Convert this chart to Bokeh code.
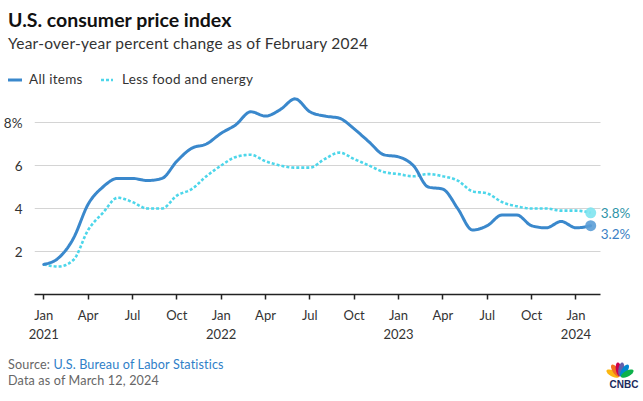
import numpy as np
from bokeh.plotting import figure
from bokeh.layouts import column
from bokeh.models import Label, FixedTicker, Range1d, Div
from bokeh.embed import file_html
from bokeh.resources import INLINE

# ---------------- data ----------------
months = ["2021-01", "2021-02", "2021-03", "2021-04", "2021-05", "2021-06",
          "2021-07", "2021-08", "2021-09", "2021-10", "2021-11", "2021-12",
          "2022-01", "2022-02", "2022-03", "2022-04", "2022-05", "2022-06",
          "2022-07", "2022-08", "2022-09", "2022-10", "2022-11", "2022-12",
          "2023-01", "2023-02", "2023-03", "2023-04", "2023-05", "2023-06",
          "2023-07", "2023-08", "2023-09", "2023-10", "2023-11", "2023-12",
          "2024-01", "2024-02"]
all_items = [1.4, 1.7, 2.6, 4.2, 5.0, 5.4, 5.4, 5.3, 5.4, 6.2, 6.8, 7.0,
             7.5, 7.9, 8.5, 8.3, 8.6, 9.1, 8.5, 8.3, 8.2, 7.7, 7.1, 6.5,
             6.4, 6.0, 5.0, 4.9, 4.0, 3.0, 3.2, 3.7, 3.7, 3.2, 3.1, 3.4,
             3.1, 3.2]
core = [1.4, 1.3, 1.6, 3.0, 3.8, 4.5, 4.3, 4.0, 4.0, 4.6, 4.9, 5.5,
        6.0, 6.4, 6.5, 6.2, 6.0, 5.9, 5.9, 6.3, 6.6, 6.3, 6.0, 5.7,
        5.6, 5.5, 5.6, 5.5, 5.3, 4.8, 4.7, 4.3, 4.1, 4.0, 4.0, 3.9,
        3.9, 3.8]
series_names = ["All items", "Less food and energy"]
x_tick_labels = ["Jan\n2021", "Apr", "Jul", "Oct", "Jan\n2022", "Apr", "Jul",
                 "Oct", "Jan\n2023", "Apr", "Jul", "Oct", "Jan\n2024"]
y_ticks = [2, 4, 6, 8]
y_tick_labels = ["2", "4", "6", "8%"]

FONT = "Lato"
BLUE = "#3a88cc"
CYAN = "#4dd6ea"
TXT = "#333333"


def monotone_curve(xs, ys, n=10):
    """Render-time monotone cubic (like d3.curveMonotoneX)."""
    xs = np.asarray(xs, float)
    ys = np.asarray(ys, float)
    h = np.diff(xs)
    s = np.diff(ys) / h
    t = np.zeros_like(ys)
    for i in range(1, len(ys) - 1):
        p_ = (s[i - 1] * h[i] + s[i] * h[i - 1]) / (h[i - 1] + h[i])
        t[i] = (np.sign(s[i - 1]) + np.sign(s[i])) * min(abs(s[i - 1]), abs(s[i]), 0.5 * abs(p_))
    t[0] = (3 * s[0] - t[1]) / 2
    t[-1] = (3 * s[-1] - t[-2]) / 2
    X, Y = [], []
    u = np.linspace(0, 1, n, endpoint=False)
    h00 = 2 * u**3 - 3 * u**2 + 1
    h10 = u**3 - 2 * u**2 + u
    h01 = -2 * u**3 + 3 * u**2
    h11 = u**3 - u**2
    for i in range(len(xs) - 1):
        X.extend(xs[i] + u * h[i])
        Y.extend(h00 * ys[i] + h10 * h[i] * t[i] + h01 * ys[i + 1] + h11 * h[i] * t[i + 1])
    X.append(xs[-1])
    Y.append(ys[-1])
    return X, Y


idx = list(range(len(months)))
tick_pos = list(range(0, len(months), 3))[:len(x_tick_labels)]

# ---------------- layout (canvas px) ----------------
W = 643
H_HEAD = 90
H_FOOT = 55
H_MAIN = 401 - H_HEAD - H_FOOT
LEFT = 33
AXIS_Y = 294                 # canvas y of the zero line
PX_PER_MONTH = 14.806
X0_PX = 42.3                 # canvas x of the first month
PX_PER_UNIT = 21.5
x_start = -(X0_PX - LEFT) / PX_PER_MONTH
x_end = x_start + (W - LEFT) / PX_PER_MONTH
plot_end = (600 - X0_PX) / PX_PER_MONTH
frame_h = AXIS_Y - H_HEAD
y_end = frame_h / PX_PER_UNIT


def baseline_top(baseline, size, lh=1.0):
    # top of a Lato line box (line-height = lh * size) whose baseline is at `baseline`
    return baseline - (0.987 - (1.2 - lh) / 2) * size


# ---------------- header ----------------
def text_div(x, baseline, size, txt, color, weight="normal", ls=0.0):
    top = baseline_top(baseline, size)
    return (f'<div style="position:absolute;left:{x}px;top:{top:.1f}px;'
            f'font-family:{FONT};font-size:{size}px;line-height:1;font-weight:{weight};'
            f'letter-spacing:{ls}px;color:{color};white-space:nowrap">{txt}</div>')


legend_svg = (
    f'<svg width="{W}" height="{H_HEAD}" style="position:absolute;left:0;top:0">'
    f'<line x1="8" y1="80" x2="22" y2="80" stroke="{BLUE}" stroke-width="3"/>'
    f'<line x1="101" y1="80" x2="113" y2="80" stroke="{CYAN}" stroke-width="2.6" '
    f'stroke-dasharray="3 2"/></svg>')
header_html = (
    f'<div style="position:relative;width:{W}px;height:{H_HEAD}px;background:white;overflow:hidden">'
    + legend_svg
    + text_div(8, 27.5, 19.5, "U.S. consumer price index", "#111111", "bold")
    + text_div(8, 50, 15.5, "Year-over-year percent change as of February 2024", TXT, ls=0.25)
    + text_div(29, 84.5, 13.5, series_names[0], TXT, ls=0.3)
    + text_div(122, 84.5, 13.5, series_names[1], TXT, ls=0.3)
    + '</div>')
header = Div(text=header_html, width=W, height=H_HEAD, margin=0)

# ---------------- main chart ----------------
p = figure(width=W, height=H_MAIN, output_backend="svg", toolbar_location=None,
           title=None, x_range=Range1d(x_start, x_end), y_range=Range1d(0, y_end))
p.min_border_left = LEFT
p.min_border_right = 0
p.min_border_top = 0
p.min_border_bottom = H_MAIN - frame_h
p.outline_line_color = None
p.background_fill_color = "white"
p.border_fill_color = "white"

xa = p.xaxis[0]
xa.ticker = FixedTicker(ticks=tick_pos)
xa.bounds = (x_start, plot_end)
xa.major_label_overrides = {tp: lab for tp, lab in zip(tick_pos, x_tick_labels)}
xa.axis_line_color = "#222222"
xa.axis_line_width = 1.5
xa.major_tick_line_color = "#222222"
xa.major_tick_line_width = 1.5
xa.major_tick_out = 5
xa.major_tick_in = 0
xa.minor_tick_line_color = None
xa.major_label_standoff = 7
xa.major_label_text_font = FONT
xa.major_label_text_font_size = "13px"
xa.major_label_text_color = TXT

ya = p.yaxis[0]
ya.ticker = FixedTicker(ticks=y_ticks)
ya.major_label_overrides = {t: l for t, l in zip(y_ticks, y_tick_labels)}
ya.axis_line_color = None
ya.major_tick_line_color = None
ya.minor_tick_line_color = None
ya.major_label_standoff = 6
ya.major_label_text_font = FONT
ya.major_label_text_font_size = "13.5px"
ya.major_label_text_color = TXT

p.xgrid.grid_line_color = None
p.ygrid.ticker = FixedTicker(ticks=y_ticks)
try:
    p.ygrid.cross_bounds = (x_start, plot_end)
    p.ygrid.grid_line_color = "#d4d4d4"
    p.ygrid.grid_line_width = 1
except Exception:
    p.ygrid.grid_line_color = None
    p.segment(x0=[x_start] * len(y_ticks), x1=[plot_end] * len(y_ticks),
              y0=y_ticks, y1=y_ticks, line_color="#d4d4d4", line_width=1)

cx_, cy_ = monotone_curve(idx, core)
ax_, ay_ = monotone_curve(idx, all_items)
p.line(cx_, cy_, line_color=CYAN, line_width=2.6, line_dash="3 2")
p.line(ax_, ay_, line_color=BLUE, line_width=3, line_join="round", line_cap="round")

p.scatter([idx[-1]], [core[-1]], size=11, fill_color="#80e4f0", line_color=None, fill_alpha=0.9)
p.scatter([idx[-1]], [all_items[-1]], size=11, fill_color="#5b9dd6", line_color=None, fill_alpha=0.9)

p.add_layout(Label(x=idx[-1], y=core[-1], x_offset=10, text=f"{core[-1]}%",
                   text_baseline="middle", text_font=FONT, text_font_size="13.5px",
                   text_color="#2f94a8"))
p.add_layout(Label(x=idx[-1], y=all_items[-1], x_offset=10, y_offset=-8,
                   text=f"{all_items[-1]}%", text_baseline="middle", text_font=FONT,
                   text_font_size="13.5px", text_color="#3b7fc4"))

# ---------------- footer ----------------
FOOT_TOP = H_HEAD + H_MAIN
base = (620, 377.5 - FOOT_TOP)
petal_colors = ["#fcb711", "#f37021", "#cc004c", "#6460aa", "#0089d0", "#0db14b"]
petal_angles = [152, 123, 99, 81, 57, 28]
tt = np.linspace(0, 2 * np.pi, 24, endpoint=False)
polys = ""
for col, ang in zip(petal_colors, petal_angles):
    a = np.deg2rad(ang)
    ccx, ccy = base[0] + 8.2 * np.cos(a), base[1] - 8.2 * np.sin(a)
    ex = 7.0 * np.cos(tt)
    ey = 2.9 * np.sin(tt)
    px = ccx + ex * np.cos(a) - ey * np.sin(a)
    py = ccy - (ex * np.sin(a) + ey * np.cos(a))
    pts = " ".join(f"{u:.2f},{v:.2f}" for u, v in zip(px, py))
    polys += f'<polygon points="{pts}" fill="{col}"/>'
logo_svg = (f'<svg width="{W}" height="{H_FOOT}" style="position:absolute;left:0;top:0">'
            + polys
            + f'<text x="624" y="{388.3 - FOOT_TOP:.1f}" text-anchor="middle" '
              f'font-family="Roboto" font-weight="bold" font-size="10" fill="#1b2a5c">CNBC</text>'
            + '</svg>')
src_top = baseline_top(370.5 - FOOT_TOP, 12.6)
footer_html = (
    f'<div style="position:relative;width:{W}px;height:{H_FOOT}px;background:white;overflow:hidden">'
    + logo_svg
    + f'<div style="position:absolute;left:8px;top:{src_top:.1f}px;font-family:{FONT};'
      f'font-size:12.6px;line-height:1;letter-spacing:0.15px;color:#666666;white-space:nowrap">'
      f'Source: <span style="color:#2f80c8">U.S. Bureau of Labor Statistics</span></div>'
    + text_div(8, 386.5 - FOOT_TOP, 12.6, "Data as of March 12, 2024", "#666666", ls=0.15)
    + '</div>')
footer = Div(text=footer_html, width=W, height=H_FOOT, margin=0)

layout = column(header, p, footer, spacing=0)
open("out.html", "w").write(file_html(layout, INLINE))
